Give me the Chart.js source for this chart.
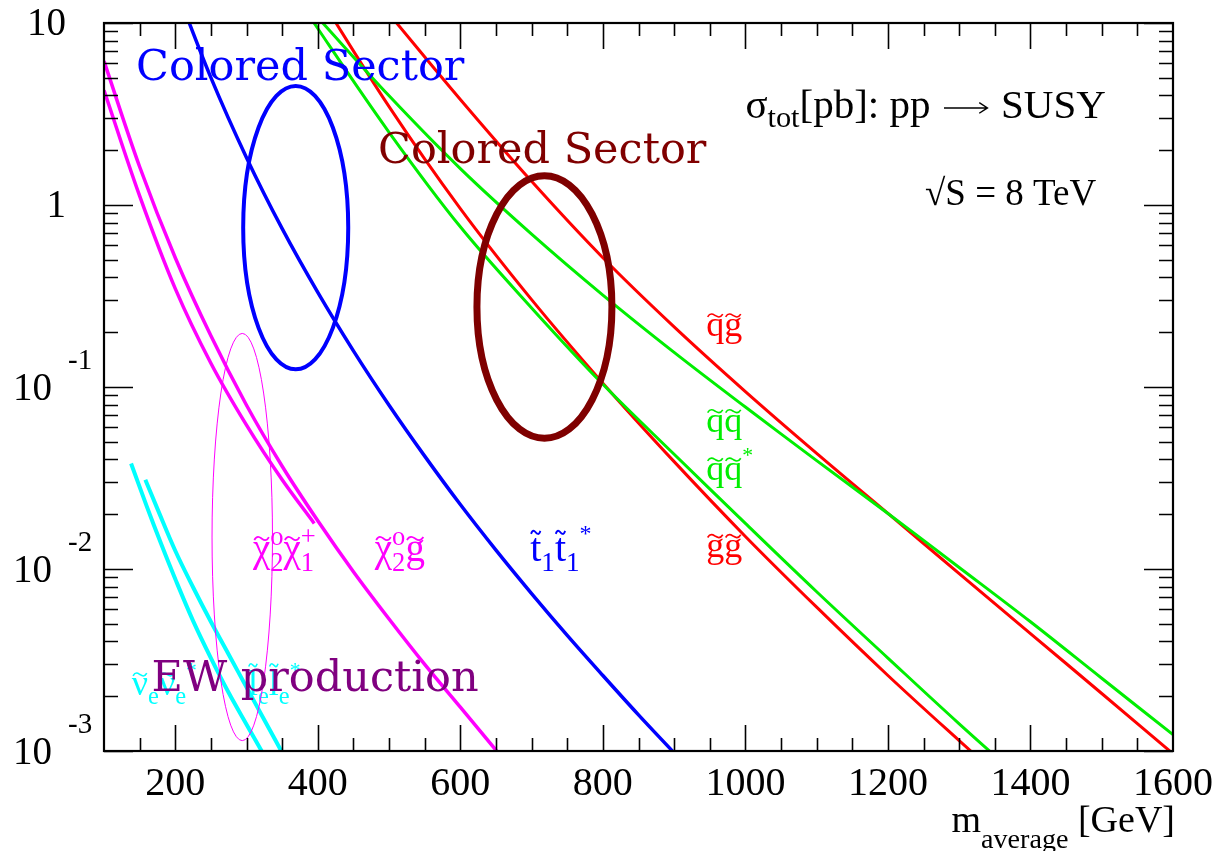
<!DOCTYPE html>
<html>
<head>
<meta charset="utf-8">
<title>SUSY production cross sections at 8 TeV</title>
<script src="https://cdn.jsdelivr.net/npm/chart.js@4.4.1/dist/chart.umd.min.js"></script>
<style>
  html, body { margin: 0; padding: 0; background: #ffffff; }
  canvas { display: block; }
</style>
</head>
<body>
<canvas id="xsec" width="1221" height="851"></canvas>
<script>
// ---- cross sections sigma_tot [pb] versus average mass [GeV] ----
const massSqGl    = [500, 600, 700, 800, 900, 1000, 1100, 1200, 1300, 1400, 1500, 1600];
const xsecSqGl    = [11.22, 3.80, 1.349, 0.513, 0.214, 0.0944, 0.0432, 0.0202, 0.00944, 0.00442, 0.00207, 0.000966];

const massSqSq    = [400, 500, 600, 700, 800, 900, 1000, 1100, 1200, 1300, 1400, 1500, 1600];
const xsecSqSq    = [10.72, 3.98, 1.585, 0.692, 0.320, 0.155, 0.0776, 0.0394, 0.0202, 0.0102, 0.00513, 0.00251, 0.00123];

const massSqSqbar = [350, 400, 500, 600, 700, 800, 900, 1000, 1100, 1200, 1300, 1400];
const xsecSqSqbar = [18.6, 9.33, 2.51, 0.759, 0.272, 0.1035, 0.0427, 0.0178, 0.0075, 0.00324, 0.00141, 0.000631];

const massGlGl    = [400, 500, 600, 700, 800, 900, 1000, 1100, 1200, 1300, 1400];
const xsecGlGl    = [14.45, 3.47, 0.955, 0.302, 0.105, 0.0389, 0.0151, 0.00617, 0.0026, 0.00114, 0.000507];

const massStop    = [200, 250, 300, 350, 400, 450, 500, 550, 600, 650, 700, 750, 800, 850, 900];
const xsecStop    = [15.85, 5.01, 1.82, 0.741, 0.331, 0.158, 0.0794, 0.0417, 0.0226, 0.0127, 0.00733, 0.00432, 0.0026, 0.00158, 0.000977];

const massN2Gl    = [100, 150, 200, 250, 300, 350, 400, 450, 500, 550, 600, 650, 700];
const xsecN2Gl    = [6.17, 1.622, 0.513, 0.191, 0.0794, 0.0367, 0.0184, 0.00966, 0.00531, 0.00299, 0.00174, 0.00101, 0.000589];

const massN2C1    = [100, 150, 200, 250, 300, 350, 395];
const xsecN2C1    = [4.27, 1.122, 0.347, 0.135, 0.0617, 0.0309, 0.0178];

const massSnu     = [138, 160, 180, 200, 225, 250, 275, 300, 320, 325];
const xsecSnu     = [0.0380, 0.0221, 0.0138, 0.00881, 0.00519, 0.00324, 0.00209, 0.0014, 0.00102, 0.000944];

const massSel     = [158, 175, 200, 225, 250, 275, 300, 325, 350];
const xsecSel     = [0.0309, 0.0214, 0.0126, 0.00794, 0.00513, 0.00339, 0.00224, 0.00148, 0.00098];

// ---- axis ticks ----
const xMajorTicks = [200, 400, 600, 800, 1000, 1200, 1400, 1600];
const xMinorStep  = 50;
const yDecades    = [1, 0, -1, -2, -3];

// ---- fonts ----
const SERIF = '"Liberation Serif", "Times New Roman", serif';
const DEJAVU = '"DejaVu Serif", serif';
const font = (size, fam) => `${size}px ${fam || SERIF}`;

function series(mass, xsec, color, width) {
  return {
    data: mass.map((m, i) => ({ x: m, y: xsec[i] })),
    showLine: true,
    borderColor: color,
    borderWidth: width,
    pointRadius: 0,
    pointHoverRadius: 0,
    fill: false,
    clip: 0,
    tension: 0.35
  };
}

// small tilde accent drawn over a glyph
function drawTilde(ctx, x, y, w, size, level) {
  const h = size * 0.075;
  const yc = y - size * level - size * 0.11;
  const x0 = x + w * 0.08, x1 = x + w * 0.92, tw = x1 - x0;
  ctx.beginPath();
  ctx.lineWidth = Math.max(1, size * 0.045);
  ctx.moveTo(x0, yc + h * 0.5);
  ctx.bezierCurveTo(x0 + tw * 0.18, yc - h * 1.2, x0 + tw * 0.38, yc - h * 0.4, x0 + tw * 0.5, yc);
  ctx.bezierCurveTo(x0 + tw * 0.62, yc + h * 0.4, x0 + tw * 0.82, yc + h * 1.2, x1, yc - h * 0.5);
  ctx.stroke();
}

// horizontal arrow used in the process caption
function drawArrow(ctx, x, y, w, size) {
  const ya = y - size * 0.25;
  const x0 = x + size * 0.08, x1 = x + w - size * 0.08;
  ctx.beginPath();
  ctx.lineWidth = Math.max(1, size * 0.035);
  ctx.moveTo(x0, ya); ctx.lineTo(x1, ya);
  ctx.moveTo(x1 - size * 0.2, ya - size * 0.13); ctx.lineTo(x1, ya); ctx.lineTo(x1 - size * 0.2, ya + size * 0.13);
  ctx.stroke();
}

function tokenWidth(ctx, size, tk) {
  if (tk.arrow) return tk.arrow;
  if (tk.sub !== undefined || tk.sup !== undefined) {
    ctx.font = font(size * (tk.scale || 0.68));
    return Math.max(tk.sub ? ctx.measureText(tk.sub).width : 0, tk.sup ? ctx.measureText(tk.sup).width : 0);
  }
  ctx.font = font(size, tk.fam);
  return ctx.measureText(tk.t).width;
}

// draws tokens left to right: plain text, accented glyphs, sub/superscripts
function drawRun(ctx, x, y, size, color, tokens) {
  ctx.save();
  ctx.fillStyle = color;
  ctx.strokeStyle = color;
  ctx.textAlign = 'left';
  ctx.textBaseline = 'alphabetic';
  let cx = x;
  for (const tk of tokens) {
    const w = tokenWidth(ctx, size, tk);
    if (tk.arrow) {
      drawArrow(ctx, cx, y, w, size);
    } else if (tk.sub !== undefined || tk.sup !== undefined) {
      if (tk.sub) ctx.fillText(tk.sub, cx, y + size * (tk.subDy || 0.26));
      if (tk.sup) ctx.fillText(tk.sup, cx, y - size * (tk.supDy || 0.40));
    } else {
      ctx.fillText(tk.t, cx, y);
      if (tk.tilde) drawTilde(ctx, cx, y, w, size, tk.tilde);
    }
    cx += w;
  }
  ctx.restore();
  return cx;
}

function runWidth(ctx, size, tokens) {
  ctx.save();
  let w = 0;
  for (const tk of tokens) w += tokenWidth(ctx, size, tk);
  ctx.restore();
  return w;
}

const XH = 0.46;   // x-height level for the tilde
const TH = 0.60;   // level for taller glyphs
const AH = 0.72;   // level for ascender glyphs
const STAR = { sup: '*', scale: 0.6, supDy: 0.5 };

// region markers, placed in data coordinates
const regionEllipses = [
  { mass: 369, halfWidth: 73.7, top: 4.51,  bottom: 0.125,   color: '#0000ff', width: 4 },
  { mass: 718, halfWidth: 94.7, top: 1.449, bottom: 0.0523,  color: '#7f0000', width: 7 },
  { mass: 294, halfWidth: 42.4, top: 0.197, bottom: 0.00114, color: '#ff00ff', width: 1 }
];

const sectorTexts = [
  { text: 'Colored Sector', mass: 145, xsec: 4.86,   color: '#0000ff', size: 43 },
  { text: 'Colored Sector', mass: 484.5, xsec: 1.707, color: '#800000', size: 43 }
];

const curveLabels = [
  { mass: 945, xsec: 0.1906, color: '#ff0000', size: 36, tokens: [{ t: 'q', tilde: XH }, { t: 'g', tilde: XH }] },
  { mass: 945, xsec: 0.0568, color: '#00ee00', size: 36, tokens: [{ t: 'q', tilde: XH }, { t: 'q', tilde: XH }] },
  { mass: 945, xsec: 0.0308, color: '#00ee00', size: 36, tokens: [{ t: 'q', tilde: XH }, { t: 'q', tilde: XH }, STAR] },
  { mass: 945, xsec: 0.01169, color: '#ff0000', size: 36, tokens: [{ t: 'g', tilde: XH }, { t: 'g', tilde: XH }] },
  { mass: 309, xsec: 0.0111, color: '#ff00ff', size: 39, tokens: [{ t: 'χ', tilde: XH }, { sub: '2', sup: 'o' }, { t: 'χ', tilde: XH }, { sub: '1', sup: '+' }] },
  { mass: 480, xsec: 0.0111, color: '#ff00ff', size: 39, tokens: [{ t: 'χ', tilde: XH }, { sub: '2', sup: 'o' }, { t: 'g', tilde: XH }] },
  { mass: 698, xsec: 0.0111, color: '#0000ff', size: 40, tokens: [{ t: 't', tilde: TH }, { sub: '1' }, { t: 't', tilde: TH }, { sub: '1' }, STAR] },
  { mass: 139, xsec: 0.00203, color: '#00ffff', size: 36, tokens: [{ t: 'ν', tilde: XH }, { sub: 'e' }, { t: 'ν', tilde: XH }, { sub: 'e' }, STAR] },
  { mass: 302, xsec: 0.00203, color: '#00ffff', size: 36, tokens: [{ t: 'l', tilde: AH }, { sub: 'e' }, { t: 'l', tilde: AH }, { sub: 'e' }, STAR] }
];

const ewText = { text: 'EW production', mass: 166.7, xsec: 0.00214, color: '#800080', size: 43 };

const processTitle = { mass: 1000, xsec: 3.0, size: 41 };
const energyTitle  = { mass: 1252, xsec: 1.0, size: 37 };

const annotations = {
  id: 'annotations',
  afterDatasetsDraw(chart) {
    const { ctx, scales: { x, y } } = chart;
    ctx.save();
    // curve labels
    for (const l of curveLabels) {
      drawRun(ctx, x.getPixelForValue(l.mass), y.getPixelForValue(l.xsec), l.size, l.color, l.tokens);
    }
    // region ellipses
    for (const e of regionEllipses) {
      const cx = x.getPixelForValue(e.mass);
      const rx = x.getPixelForValue(e.mass + e.halfWidth) - cx;
      const yt = y.getPixelForValue(e.top), yb = y.getPixelForValue(e.bottom);
      ctx.beginPath();
      ctx.ellipse(cx, (yt + yb) / 2, rx, (yb - yt) / 2, 0, 0, Math.PI * 2);
      ctx.lineWidth = e.width;
      ctx.strokeStyle = e.color;
      ctx.stroke();
    }
    // sector captions
    ctx.textAlign = 'left';
    ctx.textBaseline = 'alphabetic';
    for (const s of sectorTexts.concat([ewText])) {
      ctx.font = font(s.size, DEJAVU);
      ctx.fillStyle = s.color;
      ctx.fillText(s.text, x.getPixelForValue(s.mass), y.getPixelForValue(s.xsec));
    }
    // process and energy captions
    drawRun(ctx, x.getPixelForValue(processTitle.mass), y.getPixelForValue(processTitle.xsec), processTitle.size, '#000000',
      [{ t: 'σ' }, { sub: 'tot', scale: 0.74, subDy: 0.22 }, { t: '[pb]: pp ' }, { arrow: 50 }, { t: ' SUSY' }]);
    drawRun(ctx, x.getPixelForValue(energyTitle.mass), y.getPixelForValue(energyTitle.xsec), energyTitle.size, '#000000',
      [{ t: '√S = 8 TeV' }]);
    ctx.restore();
  },
  afterDraw(chart) {
    const { ctx, chartArea: a, scales: { x, y } } = chart;
    ctx.save();
    ctx.strokeStyle = '#000000';
    // ticks on all four sides
    ctx.lineWidth = 1.6;
    ctx.beginPath();
    for (let m = 150; m < 1600; m += xMinorStep) {
      const px = Math.round(x.getPixelForValue(m)) + 0.5;
      const len = xMajorTicks.includes(m) ? 26 : 13;
      ctx.moveTo(px, a.bottom); ctx.lineTo(px, a.bottom - len);
      ctx.moveTo(px, a.top); ctx.lineTo(px, a.top + len);
    }
    for (const d of yDecades) {
      for (let k = 1; k <= 9; k++) {
        if (d === 1 && k > 1) continue;
        const py = Math.round(y.getPixelForValue(k * Math.pow(10, d))) + 0.5;
        const len = k === 1 ? 29 : 14;
        ctx.moveTo(a.left, py); ctx.lineTo(a.left + len, py);
        ctx.moveTo(a.right, py); ctx.lineTo(a.right - len, py);
      }
    }
    ctx.stroke();
    // frame
    ctx.lineWidth = 2.2;
    ctx.strokeRect(a.left, a.top, a.right - a.left, a.bottom - a.top);

    // tick labels
    ctx.fillStyle = '#000000';
    ctx.textBaseline = 'alphabetic';
    ctx.font = font(40);
    ctx.textAlign = 'center';
    for (const v of xMajorTicks) ctx.fillText(String(v), x.getPixelForValue(v), a.bottom + 44);
    for (const d of yDecades) {
      const py = y.getPixelForValue(Math.pow(10, d));
      ctx.font = font(39);
      ctx.textAlign = 'right';
      if (d === 1) ctx.fillText('10', a.left - 38, py + 12);
      else if (d === 0) ctx.fillText('1', a.left - 38, py + 12);
      else {
        ctx.fillText('10', a.left - 52, py + 13);
        ctx.font = font(29);
        ctx.textAlign = 'left';
        ctx.fillText(String(d), a.left - 36, py - 18);
      }
    }
    // axis title, right aligned to the frame
    const t1 = [{ t: 'm' }, { sub: 'average', scale: 0.74, subDy: 0.43 }, { t: ' [GeV]' }];
    const w = runWidth(ctx, 38, t1);
    drawRun(ctx, a.right + 2 - w, a.bottom + 81, 38, '#000000', t1);
    ctx.restore();
  }
};

new Chart(document.getElementById('xsec').getContext('2d'), {
  type: 'scatter',
  data: {
    datasets: [
      series(massSnu, xsecSnu, '#00ffff', 4),
      series(massSel, xsecSel, '#00ffff', 4),
      series(massN2C1, xsecN2C1, '#ff00ff', 3.5),
      series(massN2Gl, xsecN2Gl, '#ff00ff', 3.5),
      series(massStop, xsecStop, '#0000ff', 3.5),
      series(massSqSqbar, xsecSqSqbar, '#00ee00', 3),
      series(massSqSq, xsecSqSq, '#00ee00', 3),
      series(massGlGl, xsecGlGl, '#ff0000', 3),
      series(massSqGl, xsecSqGl, '#ff0000', 3)
    ]
  },
  options: {
    responsive: false,
    animation: false,
    devicePixelRatio: 1,
    layout: { padding: { left: 104, right: 48, top: 23, bottom: 100 } },
    plugins: { legend: { display: false }, tooltip: { enabled: false } },
    events: [],
    scales: {
      x: { type: 'linear', min: 100, max: 1600, display: false },
      y: { type: 'logarithmic', min: 0.001, max: 10, display: false }
    }
  },
  plugins: [annotations]
});
</script>
</body>
</html>
